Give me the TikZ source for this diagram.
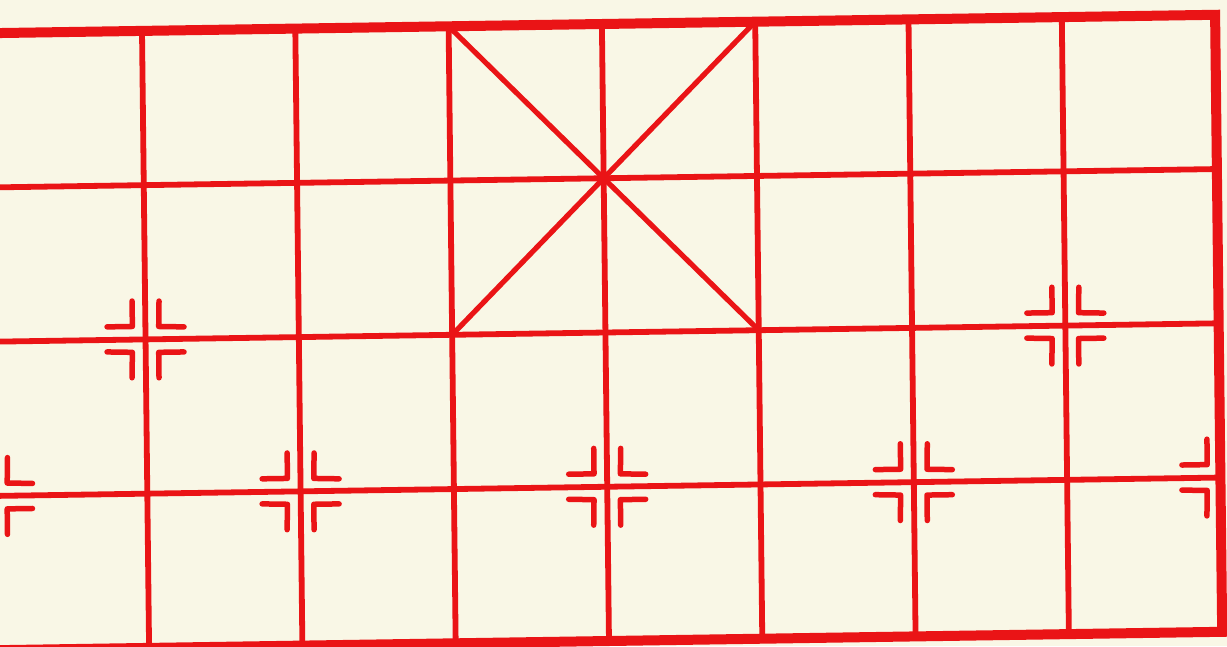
\documentclass[tikz,border=0pt]{standalone}
\definecolor{paper}{RGB}{249,247,230}
\definecolor{boardred}{RGB}{234,20,22}
\tikzset{
  gridline/.style={draw=boardred, line width=5.8pt},
  borderline/.style={draw=boardred, line width=10pt, line join=miter},
  palaceline/.style={draw=boardred, line width=5.2pt},
  mk/.style={draw=boardred, line width=5.5pt, line cap=round, line join=round},
  board/.style={x={(153.3pt,2.3pt)}, y={(1.77pt,-154.25pt)}, shift={(-11.3pt,-33.2pt)}}
}
\newcommand\cornermk[4]{%
  \begin{scope}[shift={(#1,#2)}, xscale=#3, yscale=#4]
    \draw[mk] (0.085,0.25) -- (0.085,0.085) -- (0.25,0.085);
  \end{scope}}
\newcommand\fullmk[2]{\cornermk{#1}{#2}{1}{1}\cornermk{#1}{#2}{-1}{1}\cornermk{#1}{#2}{1}{-1}\cornermk{#1}{#2}{-1}{-1}}
\begin{document}
\begin{tikzpicture}
  \path[use as bounding box] (0,0) rectangle (1227pt,-646pt);
  \clip (0,0) rectangle (1227pt,-646pt);
  \fill[paper] (0,0) rectangle (1227pt,-646pt);
  \begin{scope}[board]
    % inner horizontal lines
    \foreach \r in {1,2,3} {
      \draw[gridline] (-0.1,\r) coordinate (hl\r) -- (8,\r) coordinate (hr\r);
    }
    % inner vertical lines
    \foreach \c in {1,...,7} {
      \draw[gridline] (\c,0) coordinate (vt\c) -- (\c,4) coordinate (vb\c);
    }
    % palace diagonals
    \coordinate (pTL) at (3,0);
    \coordinate (pTR) at (5,0);
    \coordinate (pBL) at (3,2);
    \coordinate (pBR) at (5,2);
    \draw[palaceline] (pTL) -- (pBR);
    \draw[palaceline] (pTR) -- (pBL);
    % outer border (left side lies outside the photo)
    \coordinate (bTL) at (-0.1,0);
    \coordinate (bTR) at (8,0);
    \coordinate (bBR) at (8,4);
    \coordinate (bBL) at (-0.1,4);
    \draw[borderline] (bTL) -- (bTR) -- (bBR) -- (bBL);
    % position marks
    \fullmk{1}{2}
    \fullmk{7}{2}
    \fullmk{2}{3}
    \fullmk{4}{3}
    \fullmk{6}{3}
    \cornermk{0}{3}{1}{1}\cornermk{0}{3}{1}{-1}
    \cornermk{8}{3}{-1}{1}\cornermk{8}{3}{-1}{-1}
  \end{scope}
\end{tikzpicture}
\end{document}
